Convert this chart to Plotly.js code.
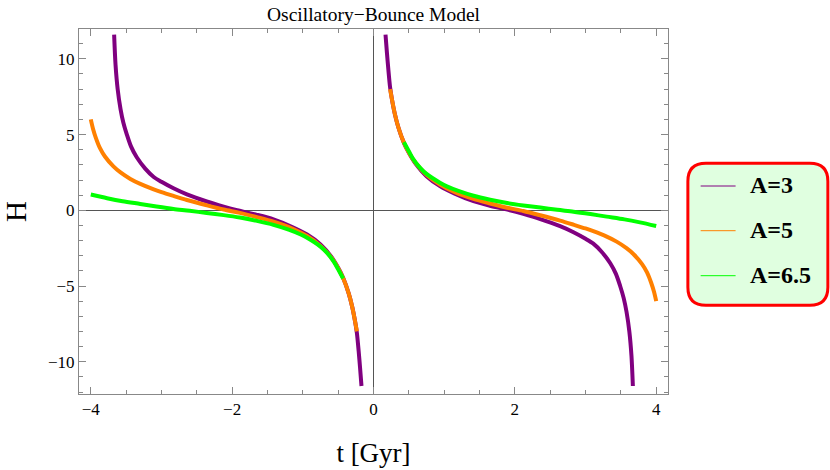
<!DOCTYPE html>
<html>
<head>
<meta charset="utf-8">
<script src="https://cdn.plot.ly/plotly-3.0.1.min.js"></script>
<style>html,body{margin:0;padding:0;background:#fff;}#chart{width:830px;height:470px;}</style>
</head>
<body>
<div id="chart"></div>
<script>
// Series names (legend labels)
const seriesNames = ["A=3", "A=5", "A=6.5"];
const seriesColors = ["#800080", "#FF8000", "#00FF00"];

// A=3 (purple): left branch, gap, right branch
const tA3 = [-3.67,-3.65,-3.62,-3.58,-3.54,-3.49,-3.43,-3.35,-3.23,-3.11,-3.0,-2.83,-2.64,-2.36,-2.12,-1.93,-1.65,-1.415,-1.15,-0.94,-0.75,-0.6,-0.5,-0.43,-0.35,-0.3,-0.26,-0.235,-0.21,-0.19,-0.17,
  null,
  0.17,0.19,0.21,0.235,0.26,0.3,0.35,0.43,0.5,0.6,0.75,0.94,1.15,1.415,1.65,1.93,2.12,2.36,2.64,2.83,3.0,3.11,3.23,3.35,3.43,3.49,3.54,3.58,3.62,3.65,3.67];
const hA3 = [11.6,9.6,8.0,6.7,5.8,5.0,4.2,3.5,2.75,2.2,1.88,1.45,1.05,0.58,0.24,0.0,-0.3,-0.6,-1.1,-1.6,-2.25,-3.05,-3.8,-4.45,-5.5,-6.4,-7.35,-8.1,-9.3,-10.4,-11.6,
  null,
  11.6,10.4,9.3,8.1,7.35,6.4,5.5,4.45,3.8,3.05,2.25,1.6,1.1,0.6,0.3,0.0,-0.24,-0.58,-1.05,-1.45,-1.88,-2.2,-2.75,-3.5,-4.2,-5.0,-5.8,-6.7,-8.0,-9.6,-11.6];

// A=5 (orange)
const tA5 = [-4.0,-3.97,-3.93,-3.87,-3.8,-3.68,-3.58,-3.44,-3.3,-3.11,-3.0,-2.83,-2.64,-2.36,-2.12,-1.89,-1.65,-1.415,-1.15,-0.94,-0.75,-0.6,-0.5,-0.43,-0.35,-0.3,-0.26,-0.235,
  null,
  0.235,0.26,0.3,0.35,0.43,0.5,0.6,0.75,0.94,1.15,1.415,1.65,1.89,2.12,2.36,2.64,2.83,3.0,3.11,3.3,3.44,3.58,3.68,3.8,3.87,3.93,3.97,4.0];
const hA5 = [6.0,5.4,4.8,4.1,3.55,2.9,2.5,2.07,1.74,1.38,1.2,0.95,0.68,0.33,0.05,-0.17,-0.45,-0.75,-1.2,-1.7,-2.35,-3.1,-3.82,-4.47,-5.5,-6.4,-7.35,-8.0,
  null,
  8.0,7.35,6.4,5.5,4.47,3.82,3.1,2.35,1.7,1.2,0.75,0.45,0.17,-0.05,-0.33,-0.68,-0.95,-1.2,-1.38,-1.74,-2.07,-2.5,-2.9,-3.55,-4.1,-4.8,-5.4,-6.0];

// A=6.5 (green)
const tA65 = [-4.0,-3.77,-3.55,-3.3,-3.07,-2.83,-2.6,-2.36,-2.12,-1.89,-1.65,-1.415,-1.2,-1.03,-0.94,-0.75,-0.66,-0.56,-0.5,-0.43,
  null,
  0.43,0.5,0.56,0.66,0.75,0.94,1.03,1.2,1.415,1.65,1.89,2.12,2.36,2.6,2.83,3.07,3.3,3.55,3.77,4.0];
const hA65 = [1.04,0.8,0.6,0.42,0.25,0.09,-0.03,-0.18,-0.32,-0.48,-0.7,-0.96,-1.28,-1.6,-1.82,-2.4,-2.8,-3.4,-3.9,-4.5,
  null,
  4.5,3.9,3.4,2.8,2.4,1.82,1.6,1.28,0.96,0.7,0.48,0.32,0.18,0.03,-0.09,-0.25,-0.42,-0.6,-0.8,-1.04];

const xTicks = [-4, -2, 0, 2, 4];
const yTicks = [-10, -5, 0, 5, 10];

const tSeries = [tA3, tA5, tA65];
const hSeries = [hA3, hA5, hA65];

const FONT = '"Liberation Serif", "Times New Roman", Times, serif';

const traces = tSeries.map((t, i) => ({
  x: t, y: hSeries[i], type: 'scatter', mode: 'lines', name: seriesNames[i],
  line: {color: seriesColors[i], width: 4, shape: 'spline', smoothing: 0.8},
  connectgaps: false, showlegend: false, hoverinfo: 'skip'
}));

// Custom legend (rounded box)
const L = {l: 78.5, r: 668.3, t: 29, b: 394};
const px2x = p => (p - L.l) / (L.r - L.l);
const px2y = p => (L.b - p) / (L.b - L.t);
const legendY = [186, 230.7, 275.7];

const shapes = [{
  type: 'path', xref: 'paper', yref: 'paper', xsizemode: 'pixel', ysizemode: 'pixel',
  xanchor: px2x(758.3), yanchor: px2y(234.2),
  path: 'M -52,-71 L 52,-71 Q 70,-71 70,-53 L 70,53 Q 70,71 52,71 L -52,71 Q -70,71 -70,53 L -70,-53 Q -70,-71 -52,-71 Z',
  line: {color: '#FF0000', width: 3}, fillcolor: '#E0FFE0', layer: 'above'
}];
const annotations = [];
seriesNames.forEach((n, i) => {
  shapes.push({type: 'line', xref: 'paper', yref: 'paper', x0: px2x(701), x1: px2x(736),
    y0: px2y(legendY[i]), y1: px2y(legendY[i]), line: {color: seriesColors[i], width: 1}, layer: 'above'});
  annotations.push({xref: 'paper', yref: 'paper', x: px2x(748), y: px2y(legendY[i] - 1), xanchor: 'left', yanchor: 'middle',
    text: '<b>' + n + '</b>', showarrow: false, font: {family: FONT, size: 24, color: '#000'}});
});

const axisCommon = {
  showgrid: false, showline: true, linecolor: '#888', linewidth: 1, mirror: 'ticks',
  ticks: 'inside', ticklen: 7, tickcolor: '#888', tickwidth: 1,
  zeroline: true, zerolinecolor: '#555', zerolinewidth: 1,
  tickfont: {family: FONT, size: 17, color: '#000'},
};

const layout = {
  width: 830, height: 470,
  margin: {l: L.l, r: 830 - L.r, t: L.t, b: 470 - L.b},
  paper_bgcolor: '#fff', plot_bgcolor: '#fff',
  showlegend: false,
  title: {text: 'Oscillatory\u2212Bounce Model', font: {family: FONT, size: 19.5, color: '#000'},
    xref: 'paper', x: 0.5, xanchor: 'center', yref: 'container', y: 1 - 14/470, yanchor: 'middle'},
  xaxis: Object.assign({}, axisCommon, {
    range: [-4.167, 4.167], tickmode: 'array', tickvals: xTicks, ticktext: xTicks.map(v => v < 0 ? '\u2212' + Math.abs(v) : String(v)),
    minor: {dtick: 0.5, tick0: 0, ticks: 'inside', ticklen: 4, tickcolor: '#888', tickwidth: 1, showgrid: false},
    title: {text: 't [Gyr]', font: {family: FONT, size: 27, color: '#000'}, standoff: 24}
  }),
  yaxis: Object.assign({}, axisCommon, {
    range: [-12.13, 11.97], tickmode: 'array', tickvals: yTicks, ticktext: yTicks.map(v => v < 0 ? '\u2212' + Math.abs(v) : String(v)),
    minor: {dtick: 1, tick0: 0, ticks: 'inside', ticklen: 4, tickcolor: '#888', tickwidth: 1, showgrid: false},
    title: {text: 'H', font: {family: FONT, size: 29, color: '#000'}, standoff: 20}
  }),
  shapes: shapes, annotations: annotations
};

Plotly.newPlot('chart', traces, layout, {staticPlot: true, displayModeBar: false});
</script>
</body>
</html>
